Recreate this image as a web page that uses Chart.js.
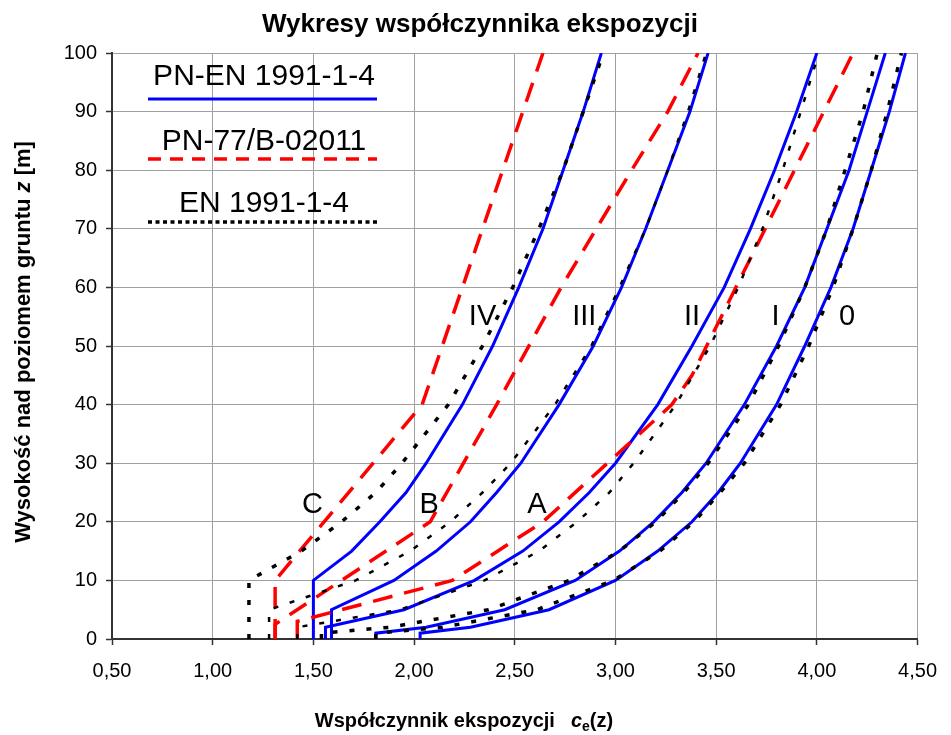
<!DOCTYPE html>
<html>
<head>
<meta charset="utf-8">
<script src="https://cdn.jsdelivr.net/npm/chart.js@4.4.1/dist/chart.umd.min.js"></script>
<style>
  body { margin: 0; background: #fff; }
  canvas { display: block; }
</style>
</head>
<body>
<canvas id="myChart" width="951" height="735"></canvas>
<script>
// heights above ground z [m] used by the PN-EN and EN curves
const heights = [0, 1, 2, 5, 10, 15, 20, 25, 30, 40, 50, 60, 70, 80, 90, 100];

// PN-EN 1991-1-4 (national annex), terrain categories 0..IV
const pnEn0   = [2.03, 2.03, 2.28, 2.67, 3.00, 3.21, 3.38, 3.51, 3.62, 3.80, 3.94, 4.07, 4.18, 4.27, 4.36, 4.44];
const pnEnI   = [1.81, 1.81, 2.06, 2.45, 2.80, 3.02, 3.19, 3.33, 3.45, 3.64, 3.80, 3.94, 4.05, 4.16, 4.25, 4.34];
const pnEnII  = [1.56, 1.56, 1.56, 1.95, 2.30, 2.54, 2.72, 2.87, 3.00, 3.21, 3.38, 3.54, 3.67, 3.79, 3.90, 4.00];
const pnEnIII = [1.59, 1.59, 1.59, 1.59, 1.90, 2.11, 2.28, 2.41, 2.53, 2.72, 2.89, 3.03, 3.15, 3.26, 3.37, 3.46];
const pnEnIV  = [1.50, 1.50, 1.50, 1.50, 1.50, 1.69, 1.83, 1.96, 2.06, 2.24, 2.39, 2.52, 2.64, 2.74, 2.84, 2.93];

// EN 1991-1-4 (recommended values)
const en0   = [1.81, 1.81, 2.14, 2.61, 2.99, 3.22, 3.39, 3.52, 3.64, 3.82, 3.96, 4.08, 4.18, 4.27, 4.35, 4.42];
const enI   = [1.54, 1.54, 1.88, 2.37, 2.77, 3.02, 3.20, 3.34, 3.46, 3.66, 3.81, 3.94, 4.05, 4.14, 4.23, 4.30];
const enII  = [1.42, 1.42, 1.42, 1.93, 2.35, 2.62, 2.81, 2.97, 3.09, 3.30, 3.47, 3.61, 3.73, 3.83, 3.92, 4.01];
const enIII = [1.28, 1.28, 1.28, 1.28, 1.71, 1.98, 2.18, 2.34, 2.48, 2.70, 2.88, 3.02, 3.15, 3.26, 3.36, 3.45];
const enIV  = [1.18, 1.18, 1.18, 1.18, 1.18, 1.44, 1.64, 1.81, 1.94, 2.17, 2.34, 2.49, 2.62, 2.74, 2.84, 2.94];

// PN-77/B-02011, terrains A, B, C (own height breakpoints)
const pn77HeightsA = [0, 3, 10, 20, 40, 45, 100];
const pn77A        = [1.42, 1.42, 2.19, 2.64, 3.28, 3.38, 4.18];
const pn77HeightsB = [0, 2.5, 20, 40, 60, 80, 90, 100];
const pn77B        = [1.31, 1.31, 2.08, 2.41, 2.73, 3.08, 3.26, 3.41];
const pn77HeightsC = [0, 10, 40, 100];
const pn77C        = [1.31, 1.31, 2.04, 2.64];

// curve labels [text, ce, z of baseline]
const curveLabels = [
  ['IV', 2.34, 53.5], ['III', 2.845, 53.5], ['II', 3.38, 53.5], ['I', 3.795, 53.5], ['0', 4.15, 53.5],
  ['C', 1.495, 21.5], ['B', 2.075, 21.5], ['A', 2.61, 21.5]
];

const xTicks = [0.5, 1.0, 1.5, 2.0, 2.5, 3.0, 3.5, 4.0, 4.5];
const yTicks = [0, 10, 20, 30, 40, 50, 60, 70, 80, 90, 100];

const FONT = "'Liberation Sans', Arial, sans-serif";
const BLUE = '#0000ff', RED = '#ff0000', BLACK = '#000000';

function pts(zs, ces) {
  return zs.map((z, i) => ({ x: ces[i], y: z }));
}

function enSet(vals, w) {
  return { data: pts(heights, vals), borderColor: BLACK, borderWidth: w, borderDash: [5, 12] };
}
function pn77Set(zs, vals) {
  return { data: pts(zs, vals), borderColor: RED, borderWidth: 3.5, borderDash: [20, 12] };
}
function pnEnSet(vals) {
  return { data: pts(heights, vals), borderColor: BLUE, borderWidth: 3 };
}

// first datasets end up on top
const datasets = [
  enSet(en0, 3.5), enSet(enI, 3.5), enSet(enII, 2.5), enSet(enIII, 2.5), enSet(enIV, 3.5),
  pn77Set(pn77HeightsA, pn77A), pn77Set(pn77HeightsB, pn77B), pn77Set(pn77HeightsC, pn77C),
  pnEnSet(pnEn0), pnEnSet(pnEnI), pnEnSet(pnEnII), pnEnSet(pnEnIII), pnEnSet(pnEnIV)
];
datasets.forEach(d => { d.showLine = true; d.pointRadius = 0; d.tension = 0; d.fill = false; });

function drawParts(ctx, parts, cx, baseline) {
  let total = 0;
  parts.forEach(p => { ctx.font = p.font; p.w = ctx.measureText(p.text).width + (p.gap || 0); total += p.w; });
  let x = cx - total / 2;
  ctx.textAlign = 'left';
  ctx.textBaseline = 'alphabetic';
  parts.forEach(p => {
    ctx.font = p.font;
    ctx.fillText(p.text, x, baseline + (p.dy || 0));
    x += p.w;
  });
}

const decorations = {
  id: 'decorations',
  afterDatasetsDraw(chart) {
    const ctx = chart.ctx, xs = chart.scales.x, ys = chart.scales.y;
    ctx.save();
    ctx.fillStyle = BLACK;
    ctx.font = '29px ' + FONT;
    ctx.textAlign = 'center';
    ctx.textBaseline = 'alphabetic';
    curveLabels.forEach(l => {
      ctx.fillText(l[0], xs.getPixelForValue(l[1]), ys.getPixelForValue(l[2]));
    });
    ctx.restore();
  },
  afterDraw(chart) {
    const ctx = chart.ctx;
    ctx.save();
    ctx.fillStyle = BLACK;

    // title
    ctx.font = 'bold 26px ' + FONT;
    ctx.textAlign = 'center';
    ctx.textBaseline = 'alphabetic';
    ctx.fillText('Wykresy współczynnika ekspozycji', 480, 32);

    // x axis title
    drawParts(ctx, [
      { text: 'Współczynnik ekspozycji', font: 'bold 20px ' + FONT, gap: 16 },
      { text: 'c', font: 'italic bold 20px ' + FONT },
      { text: 'e', font: 'bold 14px ' + FONT, dy: 4 },
      { text: '(z)', font: 'bold 20px ' + FONT }
    ], 464, 727);

    // y axis title
    ctx.save();
    ctx.translate(30, 342);
    ctx.rotate(-Math.PI / 2);
    drawParts(ctx, [
      { text: 'Wysokość nad poziomem gruntu ', font: 'bold 22px ' + FONT },
      { text: 'z', font: 'italic bold 22px ' + FONT },
      { text: ' [m]', font: 'bold 22px ' + FONT }
    ], 0, 0);
    ctx.restore();

    // legend
    const rows = [
      ['PN-EN 1991-1-4', 85, 99, BLUE, 3, []],
      ['PN-77/B-02011', 150, 159, RED, 3.5, [13, 9]],
      ['EN 1991-1-4', 212, 222, BLACK, 3.5, [4, 3.5]]
    ];
    ctx.font = '30px ' + FONT;
    ctx.textAlign = 'center';
    rows.forEach(r => {
      ctx.fillText(r[0], 264, r[1]);
      ctx.beginPath();
      ctx.strokeStyle = r[3];
      ctx.lineWidth = r[4];
      ctx.setLineDash(r[5]);
      ctx.moveTo(148, r[2]);
      ctx.lineTo(377, r[2]);
      ctx.stroke();
    });
    ctx.restore();
  }
};

Chart.defaults.font.family = FONT;
Chart.defaults.color = BLACK;

const ctx = document.getElementById('myChart').getContext('2d');
window.myChart = new Chart(ctx, {
  type: 'scatter',
  data: { datasets: datasets },
  options: {
    responsive: false,
    devicePixelRatio: 1,
    animation: false,
    layout: { padding: { top: 53, right: 26, left: 0, bottom: 0 } },
    plugins: { legend: { display: false }, title: { display: false }, tooltip: { enabled: false } },
    scales: {
      x: {
        type: 'linear',
        min: 0.5,
        max: 4.5,
        afterBuildTicks: s => { s.ticks = xTicks.map(v => ({ value: v })); },
        afterFit: s => { s.height = 96; },
        ticks: {
          padding: 14,
          font: { size: 20 },
          color: BLACK,
          callback: v => v.toFixed(2).replace('.', ',')
        },
        grid: { color: '#a0a0a0', lineWidth: 1, tickLength: 6, tickColor: '#333', tickWidth: 1.5 },
        border: { color: '#333', width: 2 }
      },
      y: {
        type: 'linear',
        min: 0,
        max: 100,
        afterBuildTicks: s => { s.ticks = yTicks.map(v => ({ value: v })); },
        afterFit: s => { s.width = 112; },
        ticks: { padding: 9, font: { size: 20 }, color: BLACK },
        grid: { color: '#a0a0a0', lineWidth: 1, tickLength: 6, tickColor: '#333', tickWidth: 1.5 },
        border: { color: '#333', width: 2 }
      }
    }
  },
  plugins: [decorations]
});
</script>
</body>
</html>
